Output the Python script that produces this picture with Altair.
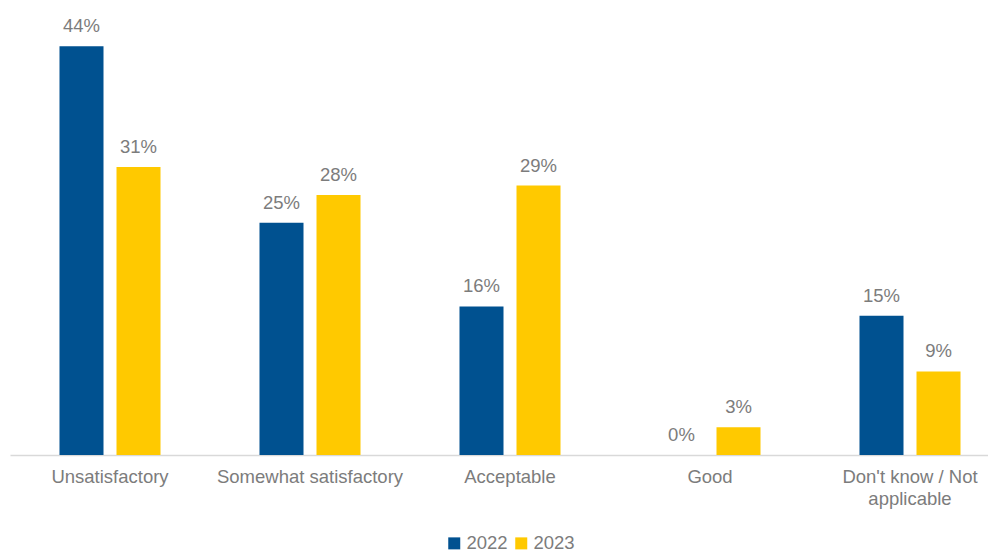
import altair as alt
import pandas as pd

categories = ["Unsatisfactory", "Somewhat satisfactory", "Acceptable", "Good", "Don't know / Not applicable"]
years = ["2022", "2023"]
values_2022 = [44, 25, 16, 0, 15]
values_2023 = [31, 28, 29, 3, 9]

rows = []
for c, v in zip(categories, values_2022):
    rows.append({"category": c, "year": "2022", "value": v, "label": f"{v}%"})
for c, v in zip(categories, values_2023):
    rows.append({"category": c, "year": "2023", "value": v, "label": f"{v}%"})
df = pd.DataFrame(rows)

FONT = "Liberation Sans"
GRAY = "#7c7c7c"

x = alt.X("category:N", sort=categories, title=None,
          scale=alt.Scale(range=[0, 1000], paddingInner=0, paddingOuter=0),
          axis=alt.Axis(labelAngle=0, labelFont=FONT, labelFontSize=18.5, labelColor=GRAY,
                        domainColor="#d9d9d9", domainWidth=1.5, ticks=False, labelPadding=12,
                        labelLineHeight=22, labelLimit=300,
                        labelExpr="datum.label == \"Don't know / Not applicable\" ? [\"Don't know / Not\", 'applicable'] : datum.label"))
xo = alt.XOffset("year:N", sort=years,
                 scale=alt.Scale(paddingInner=0.228, paddingOuter=0.868))
y = alt.Y("value:Q", scale=alt.Scale(domain=[0, 45], nice=False), axis=None)

bars = alt.Chart(df).mark_bar().encode(
    x=x, xOffset=xo, y=y,
    color=alt.Color("year:N", sort=years,
                    scale=alt.Scale(domain=years, range=["#005190", "#FFC900"]),
                    legend=alt.Legend(title=None, orient="none", legendX=435, legendY=497,
                                      direction="horizontal", symbolType="square", symbolSize=144,
                                      symbolStrokeWidth=0, labelFont=FONT, labelFontSize=18.5,
                                      labelColor=GRAY, columnPadding=4, labelOffset=3))
)

labels = alt.Chart(df).mark_text(font=FONT, fontSize=18.5, color=GRAY, baseline="alphabetic", dy=-14).encode(
    x=x, xOffset=xo, y=y, text="label:N"
)

chart = alt.layer(bars, labels).properties(
    width=978, height=418,
    autosize=alt.AutoSizeParams(type="none"),
    padding={"left": 2, "top": 29, "right": 0, "bottom": 104},
).configure_view(stroke=None)

chart.save("out.html", embed_options={"renderer": "svg", "actions": False})
